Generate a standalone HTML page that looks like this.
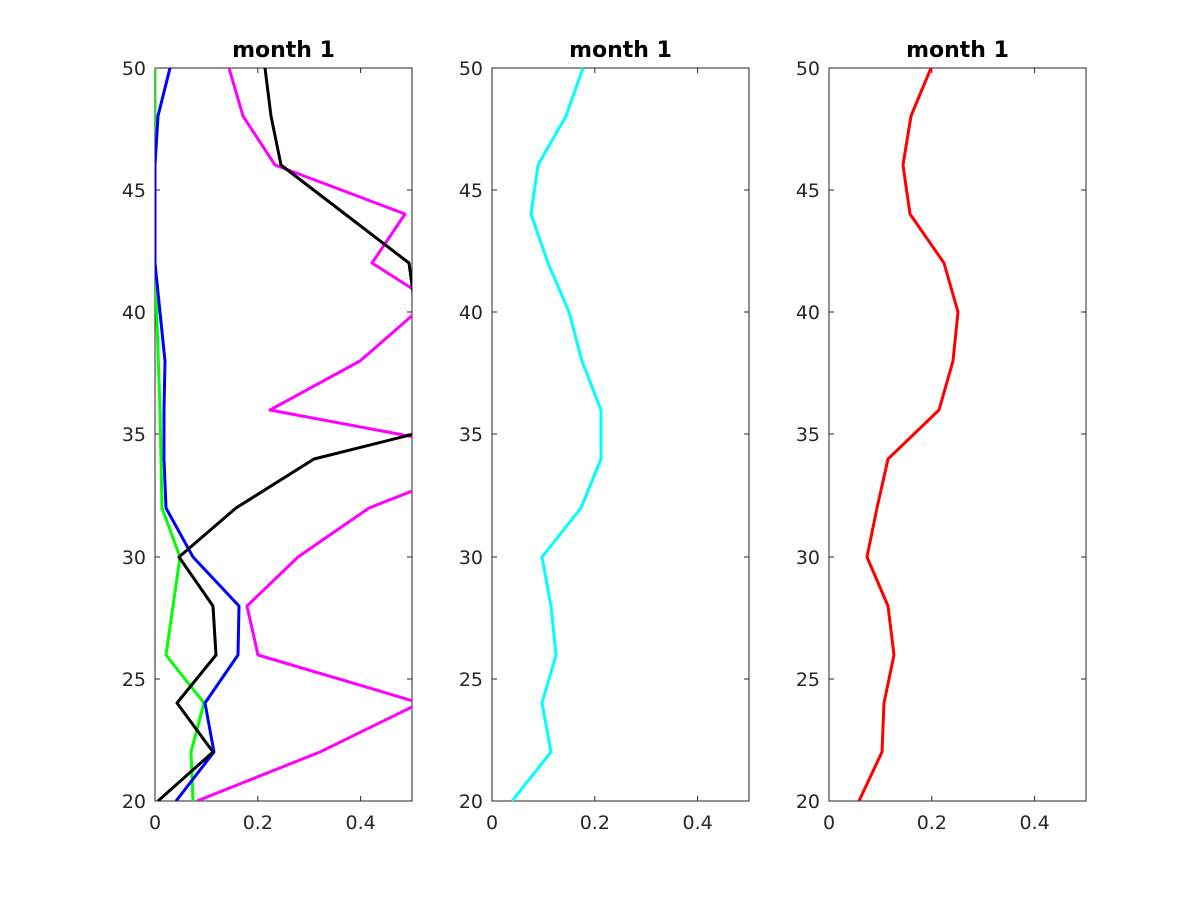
<!DOCTYPE html>
<html><head><meta charset="utf-8"><style>body{margin:0;background:#fff}svg{display:block}</style></head><body>
<svg width="1200" height="900" xmlns="http://www.w3.org/2000/svg" font-family="DejaVu Sans, sans-serif">
<rect width="1200" height="900" fill="#fff"/>
<defs>
<clipPath id="c1"><rect x="155" y="68" width="257" height="733"/></clipPath>
</defs>
<g id="axes" stroke="#262626" stroke-width="1" fill="none">
<rect x="155" y="68" width="257" height="733"/>
<rect x="492" y="68" width="257" height="733"/>
<rect x="829" y="68" width="257" height="733"/>
</g>
<g stroke="#262626" stroke-width="1">
<g id="t">
<path d="M155 801h5M155 679h5M155 557h5M155 434h5M155 312h5M155 190h5M155 68h5M412 801h-5M412 679h-5M412 557h-5M412 434h-5M412 312h-5M412 190h-5M412 68h-5M155 801v-5M257.8 801v-5M360.6 801v-5M155 68v5M257.8 68v5M360.6 68v5"/>
</g>
<use href="#t" x="337"/>
<use href="#t" x="674"/>
</g>
<g font-size="19" fill="#262626" text-anchor="end">
<g id="yl"><text x="146" y="808">20</text><text x="146" y="686">25</text><text x="146" y="564">30</text><text x="146" y="441">35</text><text x="146" y="319">40</text><text x="146" y="197">45</text><text x="146" y="75">50</text></g>
<use href="#yl" x="337"/><use href="#yl" x="674"/>
</g>
<g font-size="19" fill="#262626" text-anchor="middle">
<g id="xl"><text x="155" y="829">0</text><text x="257.8" y="829">0.2</text><text x="360.6" y="829">0.4</text></g>
<use href="#xl" x="337"/><use href="#xl" x="674"/>
</g>
<g font-size="22" font-weight="bold" text-anchor="middle" fill="#000">
<text x="283.5" y="57">month 1</text><text x="620.5" y="57">month 1</text><text x="957.5" y="57">month 1</text>
</g>
<g fill="none" stroke-width="3" stroke-linejoin="round" clip-path="url(#c1)">
<polyline stroke="#00ff00" points="193,801 191,752 204,703 166,655 180,557 162,508 160,410 155,263 155,68"/>
<polyline stroke="#0000ff" points="176,801 214,752 205,703 238,655 239,606 193,557 166,508 164,459 164,410 165,361 155,263 155,214 155,165 158,116 170,68"/>
<polyline stroke="#ff00ff" points="197,801 320,752 420,703 258,655 247,606 298,557 369,508 430,484"/>
<polyline stroke="#ff00ff" points="430,440 270,410 360,361 430,300 372,263 405,214 275,165 243,116 229,68"/>
<polyline stroke="#000" points="158,801 213,752 177,703 216,655 213,606 179,557 236,508 314,459 430,430"/>
<polyline stroke="#000" points="414,300 409,263 345,214 281,165 271,116 265,68"/>
</g>
<polyline fill="none" stroke="#00ffff" stroke-width="3" stroke-linejoin="round" points="512,801 551,752 542,703 556,655 551,606 542,557 581,508 601,459 601,410 582,361 569,312 548,263 531,214 538,165 566,116 583,68"/>
<polyline fill="none" stroke="#ff0000" stroke-width="3" stroke-linejoin="round" points="859,801 882,752 884,703 894,655 888,606 867,557 877,508 888,459 939,410 953,361 958,312 944,263 910,214 903,165 911,116 931,68"/>
</svg>
</body></html>
